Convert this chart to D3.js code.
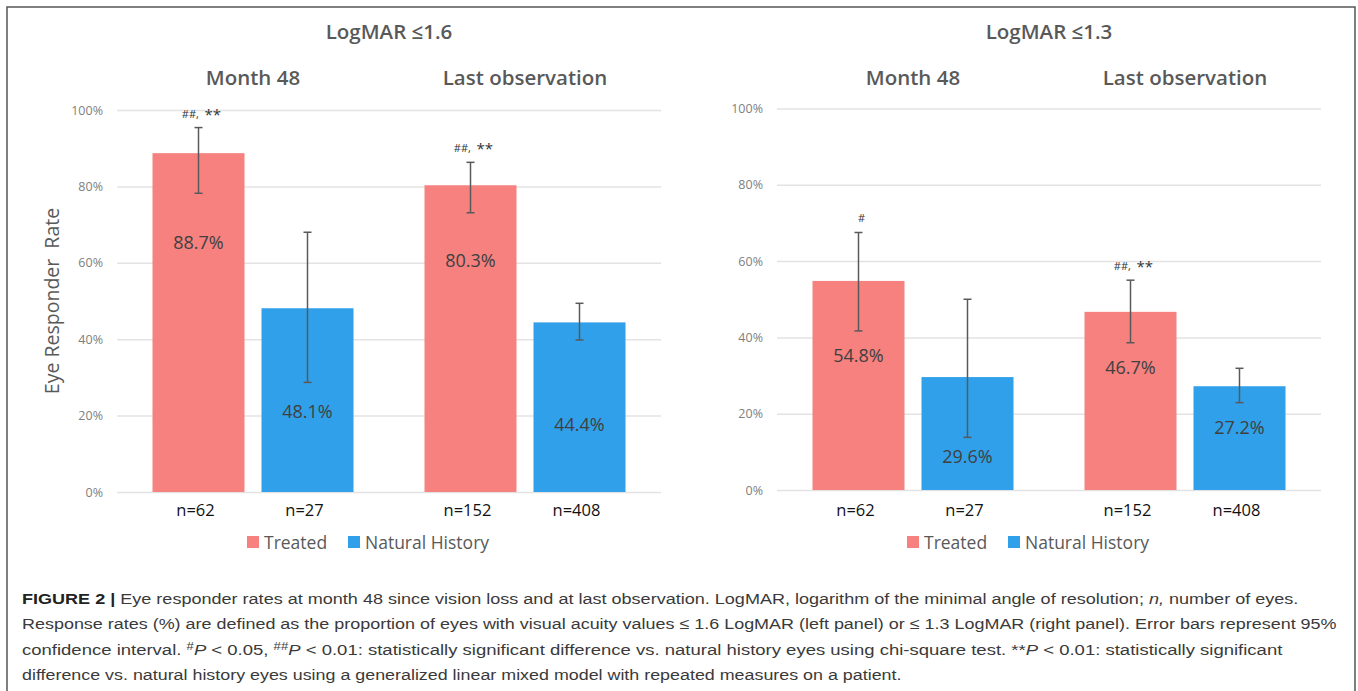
<!DOCTYPE html>
<html>
<head>
<meta charset="utf-8">
<script src="https://cdn.jsdelivr.net/npm/d3@7"></script>
<style>
  html, body { margin: 0; padding: 0; background: #fff; }
  svg { display: block; }
</style>
</head>
<body>
<svg id="chart" width="1358" height="691"></svg>
<script>
// ---------------- DATA ----------------
const groups = ["Month 48", "Last observation"];
const series = ["Treated", "Natural History"];
const panelTitles = ["LogMAR ≤1.6", "LogMAR ≤1.3"];
const yTicks = [0, 20, 40, 60, 80, 100];

// LogMAR <= 1.6 (left panel)
const treated16 = [88.7, 80.3];
const treated16Lo = [78.2, 73.1];
const treated16Hi = [95.4, 86.3];
const natural16 = [48.1, 44.4];
const natural16Lo = [28.7, 39.8];
const natural16Hi = [68.0, 49.4];
const sig16 = ["##, **", "##, **"];
const treated16LabelAt = [65.4, 60.7];
const natural16LabelAt = [21.0, 17.8];

// LogMAR <= 1.3 (right panel)
const treated13 = [54.8, 46.7];
const treated13Lo = [41.7, 38.6];
const treated13Hi = [67.5, 55.0];
const natural13 = [29.6, 27.2];
const natural13Lo = [13.8, 22.9];
const natural13Hi = [50.0, 31.9];
const sig13 = ["#", "##, **"];
const treated13LabelAt = [35.2, 32.0];
const natural13LabelAt = [8.7, 16.3];

// sample sizes (same for both panels)
const nTreated = [62, 152];
const nNatural = [27, 408];

const colors = { "Treated": "#F6817F", "Natural History": "#31A0EA" };

// ---------------- BUILD ----------------
function buildPanel(values, lo, hi, labelAt, sig) {
  return groups.map((g, i) => ({
    group: g,
    sig: sig[i],
    bars: series.map((s, j) => ({
      series: s,
      value: values[j][i],
      lo: lo[j][i],
      hi: hi[j][i],
      labelAt: labelAt[j][i],
      n: j === 0 ? nTreated[i] : nNatural[i]
    }))
  }));
}

const panels = [
  { title: panelTitles[0], left: 117, top: 110, bottom: 492, yTitle: "Eye Responder  Rate", legendX: 247,
    data: buildPanel([treated16, natural16], [treated16Lo, natural16Lo], [treated16Hi, natural16Hi],
                     [treated16LabelAt, natural16LabelAt], sig16) },
  { title: panelTitles[1], left: 777, top: 108.5, bottom: 490, yTitle: null, legendX: 907,
    data: buildPanel([treated13, natural13], [treated13Lo, natural13Lo], [treated13Hi, natural13Hi],
                     [treated13LabelAt, natural13LabelAt], sig13) }
];

const svg = d3.select("#chart");
const plotW = 544;
const chartFont = "'Open Sans', 'Noto Sans', sans-serif";

// outer frame
svg.append("rect").attr("x", 7).attr("y", 7).attr("width", 1348).attr("height", 720)
  .attr("fill", "none").attr("stroke", "#555").attr("stroke-width", 1.5);

panels.forEach(p => {
  const g = svg.append("g");
  const x0 = d3.scaleBand().domain(groups).range([p.left, p.left + plotW]).paddingInner(0).paddingOuter(0);
  const x1 = d3.scaleBand().domain(series).range([0, x0.bandwidth()]).paddingInner(0.156).paddingOuter(0.3257);
  const y = d3.scaleLinear().domain([0, 100]).range([p.bottom, p.top]);

  // gridlines
  const axis = d3.axisLeft(y).tickValues(yTicks).tickSize(-plotW).tickFormat(d => d + "%").tickPadding(14);
  const ax = g.append("g").attr("transform", `translate(${p.left},0)`).call(axis);
  ax.select(".domain").remove();
  ax.selectAll(".tick line").attr("stroke", "#E3E3E3").attr("stroke-width", 1.5);
  ax.selectAll(".tick text").attr("fill", "#808080").style("font-family", chartFont).style("font-size", "12.5px");

  // panel title
  g.append("text").attr("x", p.left + plotW / 2).attr("y", 39).attr("text-anchor", "middle")
    .style("font-family", chartFont).style("font-weight", 600).style("font-size", "20.5px")
    .attr("fill", "#595959").text(p.title);

  // group titles
  g.selectAll(".grpTitle").data(groups).enter().append("text")
    .attr("x", d => x0(d) + x0.bandwidth() / 2).attr("y", 85).attr("text-anchor", "middle")
    .style("font-family", chartFont).style("font-weight", 600).style("font-size", "20.5px")
    .attr("fill", "#595959").text(d => d);

  // y title
  if (p.yTitle) {
    g.append("text").attr("transform", `translate(59,${(p.top + p.bottom) / 2}) rotate(-90)`)
      .attr("text-anchor", "middle").style("white-space", "pre")
      .style("font-family", chartFont).style("font-size", "19.5px").attr("fill", "#595959")
      .text(p.yTitle);
  }

  const grp = g.selectAll(".grp").data(p.data).enter().append("g")
    .attr("transform", d => `translate(${x0(d.group)},0)`);

  const bar = grp.selectAll(".bar").data(d => d.bars).enter().append("g");

  bar.append("rect")
    .attr("x", d => x1(d.series)).attr("width", x1.bandwidth())
    .attr("y", d => y(d.value)).attr("height", d => y(0) - y(d.value))
    .attr("fill", d => colors[d.series]);

  // error bars
  const cx = d => x1(d.series) + x1.bandwidth() / 2;
  bar.append("line").attr("x1", cx).attr("x2", cx).attr("y1", d => y(d.lo)).attr("y2", d => y(d.hi))
    .attr("stroke", "#595959").attr("stroke-width", 1.5);
  bar.append("line").attr("x1", d => cx(d) - 4).attr("x2", d => cx(d) + 4).attr("y1", d => y(d.hi)).attr("y2", d => y(d.hi))
    .attr("stroke", "#595959").attr("stroke-width", 1.5);
  bar.append("line").attr("x1", d => cx(d) - 4).attr("x2", d => cx(d) + 4).attr("y1", d => y(d.lo)).attr("y2", d => y(d.lo))
    .attr("stroke", "#595959").attr("stroke-width", 1.5);

  // value labels
  bar.append("text").attr("x", cx).attr("y", d => y(d.labelAt) + 6.5).attr("text-anchor", "middle")
    .style("font-family", chartFont).style("font-size", "18px").attr("fill", "#404040")
    .text(d => d.value.toFixed(1) + "%");

  // n labels
  bar.append("text").attr("x", d => cx(d) - 3).attr("y", 516).attr("text-anchor", "middle")
    .style("font-family", chartFont).style("font-size", "16.5px").attr("fill", "#111")
    .text(d => "n=" + d.n);

  // significance annotation above treated bar
  grp.each(function(d) {
    const b = d.bars[0];
    const t = d3.select(this).append("text")
      .attr("x", cx(b) + 3).attr("y", y(b.hi) - 10).attr("text-anchor", "middle")
      .style("white-space", "pre")
      .style("font-family", chartFont).attr("fill", "#333");
    const parts = d.sig.split(" ");
    if (parts.length === 1) {
      t.append("tspan").style("font-size", "11px").text(parts[0]);
    } else {
      t.append("tspan").style("font-size", "11px").text(parts[0] + "  ");
      t.append("tspan").style("font-size", "15px").attr("dy", 2).text(parts[1]);
    }
  });

  // legend
  const lg = g.append("g").attr("transform", `translate(${p.legendX},542)`);
  const items = [{ s: series[0], dx: 0 }, { s: series[1], dx: 101 }];
  items.forEach(it => {
    lg.append("rect").attr("x", it.dx).attr("y", -6).attr("width", 12).attr("height", 12).attr("fill", colors[it.s]);
    lg.append("text").attr("x", it.dx + 17).attr("y", 6.5)
      .style("font-family", chartFont).style("font-size", "17.5px").attr("fill", "#595959").text(it.s);
  });
});

// ---------------- CAPTION ----------------
const captionLines = [
  { w: 1277, parts: [
    { t: "FIGURE 2 | ", b: true },
    { t: "Eye responder rates at month 48 since vision loss and at last observation. LogMAR, logarithm of the minimal angle of resolution; " },
    { t: "n,", i: true }, { t: " number of eyes." } ] },
  { w: 1315, parts: [
    { t: "Response rates (%) are defined as the proportion of eyes with visual acuity values ≤ 1.6 LogMAR (left panel) or ≤ 1.3 LogMAR (right panel). Error bars represent 95%" } ] },
  { w: 1261, parts: [
    { t: "confidence interval. " }, { t: "#", sup: true }, { t: "P", i: true }, { t: " < 0.05, " },
    { t: "##", sup: true }, { t: "P", i: true },
    { t: " < 0.01: statistically significant difference vs. natural history eyes using chi-square test. **" },
    { t: "P", i: true }, { t: " < 0.01: statistically significant" } ] },
  { w: 880, parts: [
    { t: "difference vs. natural history eyes using a generalized linear mixed model with repeated measures on a patient." } ] }
];
const capBase = [603.5, 629, 655, 680];
captionLines.forEach((ln, k) => {
  const t = svg.append("text").attr("x", 0).attr("y", 0).style("white-space", "pre")
    .style("font-family", "'Liberation Sans', Arial, sans-serif").style("font-size", "15.5px").attr("fill", "#3a3a3a");
  let shifted = false;
  ln.parts.forEach(pt => {
    const ts = t.append("tspan").text(pt.t);
    if (pt.b) ts.style("font-weight", "bold").attr("fill", "#222");
    if (pt.i) ts.style("font-style", "italic");
    if (pt.sup) { ts.attr("dy", -5).style("font-size", "11px"); shifted = true; }
    else if (shifted) { ts.attr("dy", 5); shifted = false; }
  });
  const w = t.node().getComputedTextLength();
  t.attr("transform", `translate(22,${capBase[k]}) scale(${ln.w / w},1)`);
});
</script>
</body>
</html>
